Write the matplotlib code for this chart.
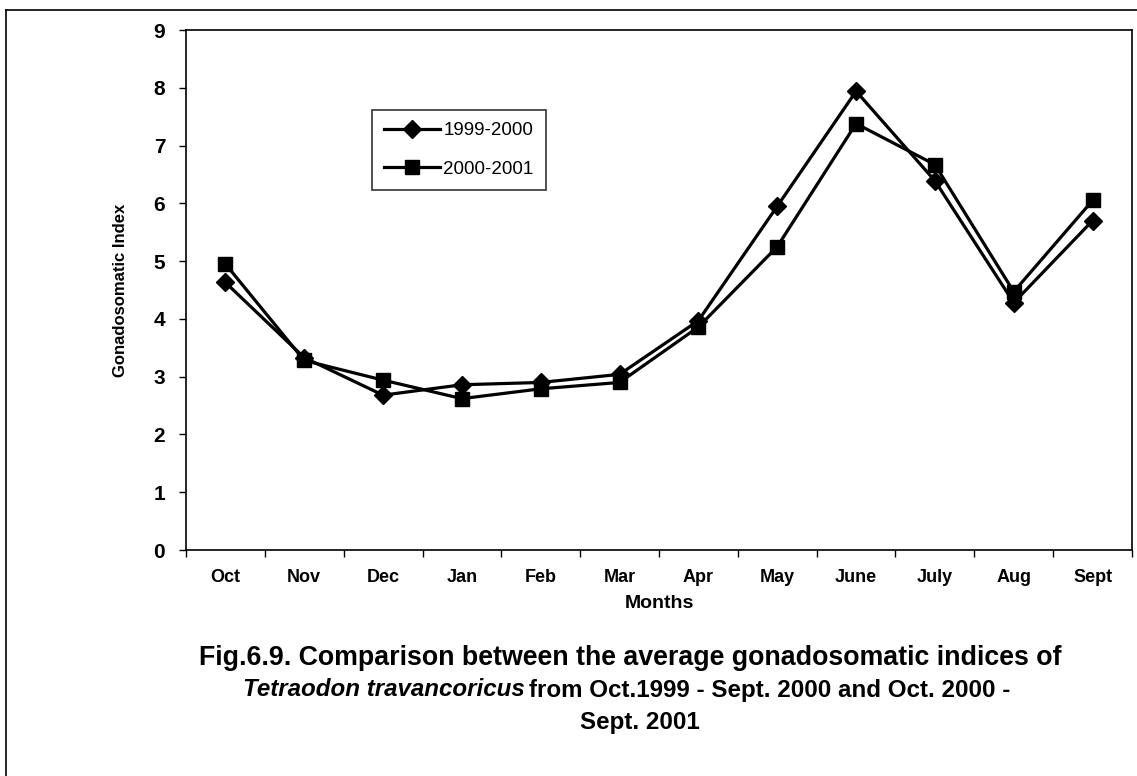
import matplotlib
matplotlib.use("Agg")
import matplotlib.pyplot as plt
from matplotlib.lines import Line2D
import numpy as np

months = ["Oct", "Nov", "Dec", "Jan", "Feb", "Mar", "Apr", "May", "June", "July", "Aug", "Sept"]
gsi_1999_2000 = [4.63, 3.33, 2.68, 2.86, 2.90, 3.04, 3.97, 5.95, 7.94, 6.39, 4.28, 5.70]
gsi_2000_2001 = [4.95, 3.28, 2.94, 2.62, 2.79, 2.90, 3.86, 5.25, 7.38, 6.67, 4.47, 6.05]
y_ticks = list(range(0, 10))

plt.rcParams["font.family"] = ["Liberation Sans", "DejaVu Sans"]

fig = plt.figure(figsize=(11.37, 7.76), dpi=100)
W, H = 1137, 776

# outer frame (top and left edge)
fig.add_artist(Line2D([6 / W, 1.0], [1 - 10 / H, 1 - 10 / H], color="black", lw=1.2))
fig.add_artist(Line2D([6 / W, 6 / W], [0.0, 1 - 10 / H], color="black", lw=1.2))

ax = fig.add_axes([186 / W, 1 - 550 / H, (1132 - 186) / W, (550 - 30) / H])
x = np.arange(len(months))
ax.plot(x, gsi_1999_2000, color="black", lw=2.3, marker="D", markersize=9,
        label="1999-2000")
ax.plot(x, gsi_2000_2001, color="black", lw=2.3, marker="s", markersize=9.5,
        label="2000-2001")

ax.set_xlim(-0.5, len(months) - 0.5)
ax.set_ylim(0, 9)
ax.set_yticks(y_ticks)
ax.set_yticklabels([str(t) for t in y_ticks], fontsize=15, fontweight="bold")
ax.set_xticks(x)
ax.set_xticklabels(months, fontsize=13, fontweight="bold")
ax.set_xticks(np.arange(-0.5, len(months)), minor=True)
ax.tick_params(axis="x", which="major", length=0, pad=14)
ax.tick_params(axis="x", which="minor", length=5, direction="out", width=1)
ax.tick_params(axis="y", length=5, direction="out", width=1, pad=10)
for s in ax.spines.values():
    s.set_linewidth(1.2)

ax.set_xlabel("Months", fontsize=14, fontweight="bold", labelpad=6)
ax.set_ylabel("Gonadosomatic Index", fontsize=12, fontweight="bold", labelpad=18)

leg = ax.legend(loc="upper left", bbox_to_anchor=(372 / W, 1 - 110 / H),
                bbox_transform=fig.transFigure, fontsize=13.5, frameon=True,
                fancybox=False, edgecolor="black", handlelength=3.0,
                handletextpad=0.15, borderpad=0.65, labelspacing=1.15,
                borderaxespad=0)
leg.get_frame().set_linewidth(1.2)

fig.text(630 / W, 1 - 658 / H,
         "Fig.6.9. Comparison between the average gonadosomatic indices of",
         ha="center", va="center", fontsize=19.3, fontweight="bold")
cap2 = dict(va="center", fontsize=17.4, fontweight="bold")
t1 = fig.text(243 / W, 1 - 690 / H, "Tetraodon travancoricus",
              ha="left", style="italic", **cap2)
fig.canvas.draw()
bb = t1.get_window_extent()
fig.text((bb.x1 + 4) / W, 1 - 690 / H,
         "from Oct.1999 - Sept. 2000 and Oct. 2000 -", ha="left", **cap2)
fig.text(640 / W, 1 - 722 / H, "Sept. 2001", ha="center", **cap2)

fig.savefig("out.png", dpi=100)
